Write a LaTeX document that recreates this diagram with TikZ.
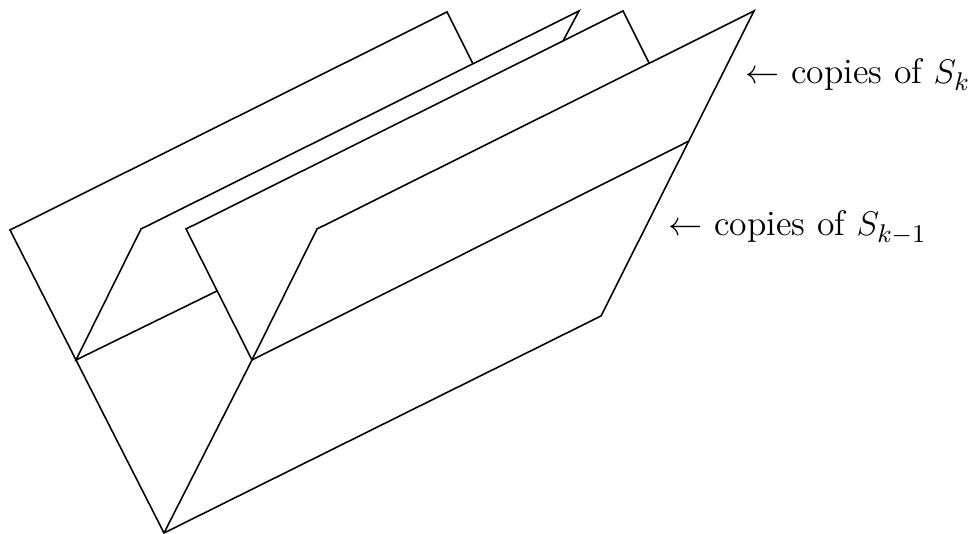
\documentclass[tikz,border=0pt]{standalone}
\begin{document}
\begin{tikzpicture}[x=0.3514pt,y=-0.3514pt,edge/.style={draw=black,line width=0.55pt,line join=miter},lab/.style={inner sep=0pt,anchor=base west,font=\fontsize{12.5}{15}\selectfont}]
\useasboundingbox (0,0) rectangle (971,534);
\coordinate (a1) at (447,12);
\coordinate (a2) at (10,230);
\coordinate (a3) at (76,360);
\coordinate (a4) at (473,64);
\coordinate (b1) at (579,11);
\coordinate (b2) at (141,229);
\coordinate (b4) at (563,41);
\coordinate (b5) at (217,291);
\coordinate (c1) at (623,11);
\coordinate (c2) at (186,229);
\coordinate (c3) at (252,360);
\coordinate (c4) at (649,63);
\coordinate (d1) at (754,11);
\coordinate (d2) at (317,229);
\coordinate (d4) at (689,141);
\coordinate (d5) at (601,316);
\coordinate (e) at (164,533);
\draw[edge] (a4) -- (a1) -- (a2) -- (a3) -- (e) -- (d5) -- (d1) -- (d2) -- (c3) -- (e);
\draw[edge] (b4) -- (b1) -- (b2) -- (a3) -- (b5);
\draw[edge] (c4) -- (c1) -- (c2) -- (c3) -- (d4);
\node[lab] (l1) at (745,84) {$\leftarrow$ copies of $S_k$};
\node[lab] (l2) at (668,236) {$\leftarrow$ copies of $S_{k-1}$};
\end{tikzpicture}
\end{document}
